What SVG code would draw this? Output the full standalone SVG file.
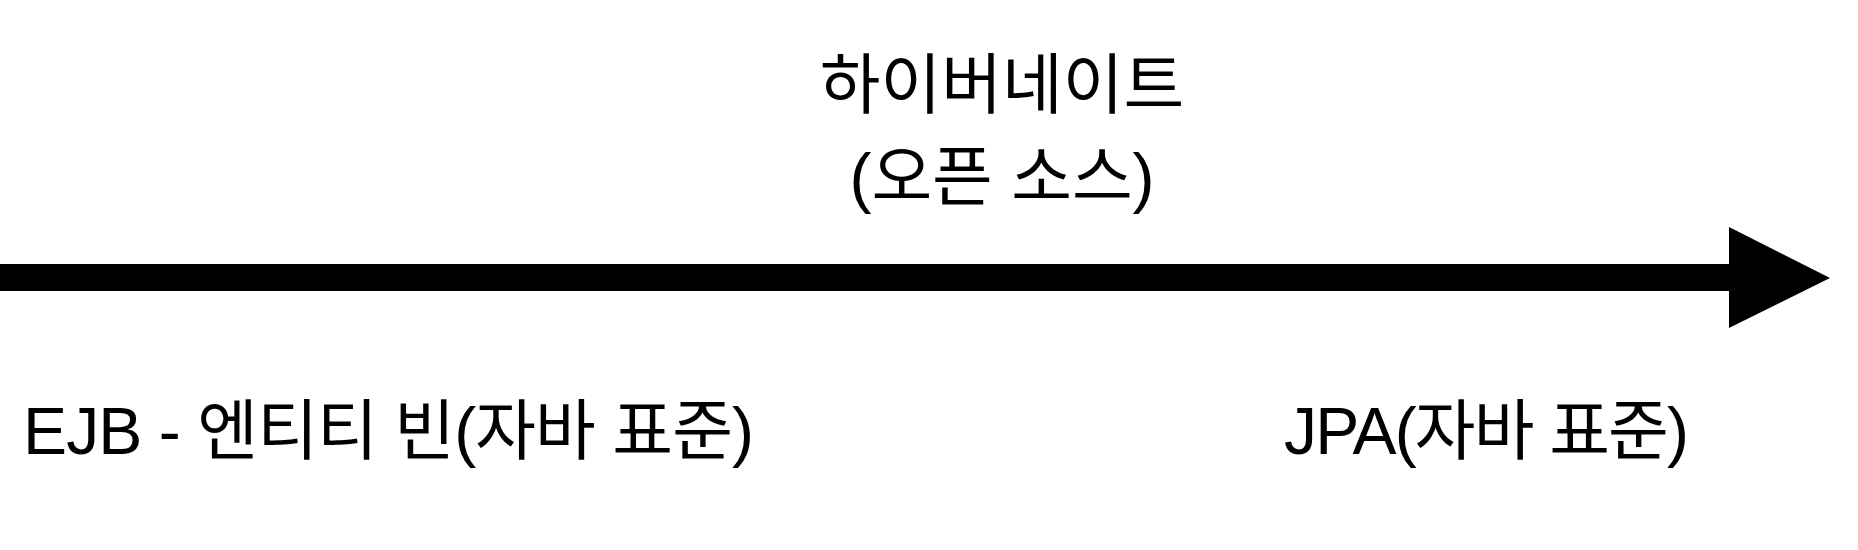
<svg xmlns="http://www.w3.org/2000/svg" width="1858" height="550" viewBox="0 0 1858 550">
<style>
.t{font-family:"Liberation Sans","Noto Sans CJK KR",sans-serif;font-size:66px;fill:#000}
</style>
<rect width="1858" height="550" fill="#fff"/>
<g id="connectors">
<rect x="0" y="264" width="1730" height="27" fill="#000"/>
<polygon points="1729,227 1830,278 1729,328" fill="#000"/>
</g>
<g id="hibernate">
<text class="t" x="1002" y="108" text-anchor="middle">하이버네이트</text>
<text class="t" x="1002" y="200" text-anchor="middle">(오픈 소스)</text>
</g>
<g id="ejb">
<text class="t" x="23" y="454" textLength="731" lengthAdjust="spacing">EJB - 엔티티 빈(자바 표준)</text>
</g>
<g id="jpa">
<text class="t" x="1284" y="454" textLength="405" lengthAdjust="spacing">JPA(자바 표준)</text>
</g>
</svg>
